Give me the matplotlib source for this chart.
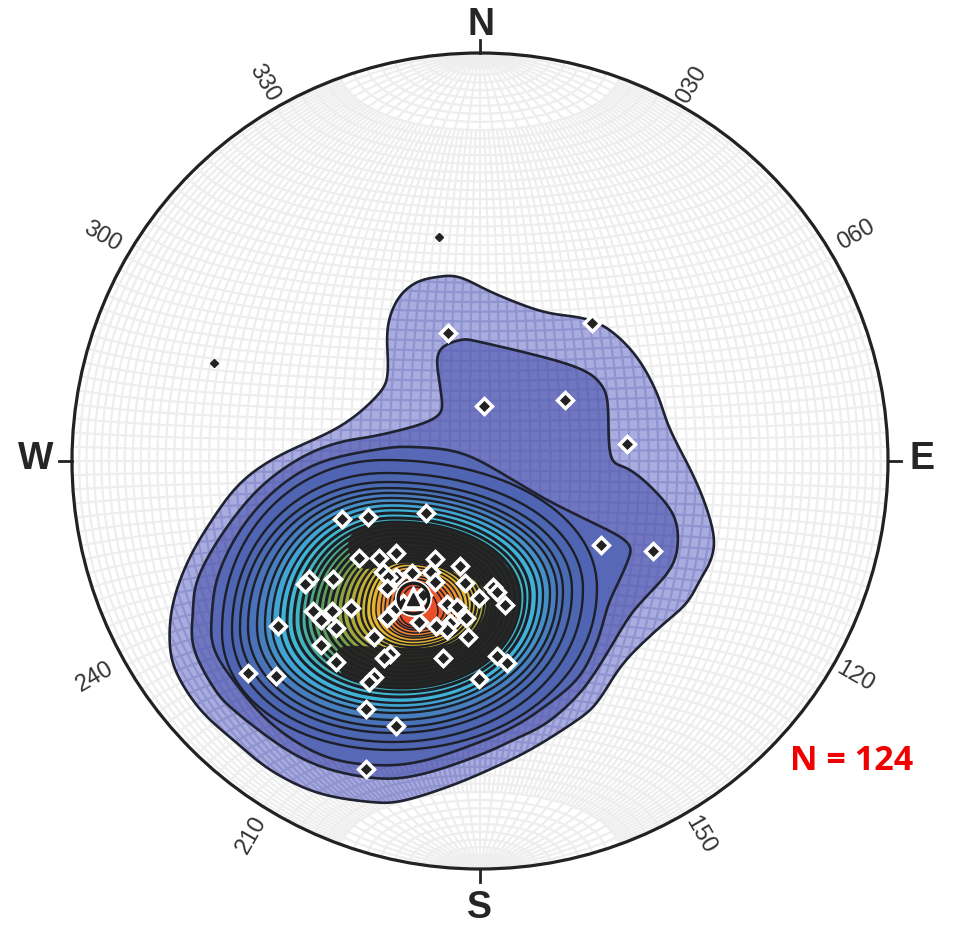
import numpy as np
import matplotlib
matplotlib.use("Agg")
import matplotlib.pyplot as plt
from matplotlib.patches import Polygon, Circle
from matplotlib.collections import LineCollection

plt.rcParams['font.family'] = ['Liberation Sans', 'DejaVu Sans']

# ---- data (image pixel coordinates) ----
cx, cy, R = 480, 461, 408

contour1_x = [437,460,493,543,583,610,637,657,670,697,713,712,700,686,660,623,597,573,530,493,453,403,370,317,270,237,203,180,170,172,187,210,240,280,340,378,388,387,397,415]
contour1_y = [277,277,293,312,318,330,357,393,430,483,530,557,580,604,627,663,703,723,750,768,785,801,802,793,770,743,713,680,650,607,563,523,483,455,427,395,373,330,300,283]
contour2_x = [460,480,547,583,600,608,610,627,647,673,678,670,643,627,603,580,547,513,480,420,370,303,237,213,193,193,197,220,257,300,340,380,437,441,437]
contour2_y = [340,342,358,370,383,403,457,468,483,513,543,570,600,620,660,693,723,740,755,775,778,760,713,687,647,613,580,537,490,458,442,435,418,393,353]
contour3_x = [380,413,463,513,547,587,628,627,610,603,595,577,540,513,480,420,370,320,270,233,213,212,218,240,275,320]
contour3_y = [449,447,453,480,500,520,542,563,600,623,647,680,710,727,742,762,765,755,723,680,647,613,575,530,490,462]

ring_left   = [222,232,240,248,257,265,272,280,287,294,301,307,313,319,325,331,337,343,349,355,361,366,371,376,381,385,389,393,396,400]
ring_top    = [460,473,482,488,493,498,503,508,513,518,522,526,530,534,538,542,546,549,552,555,558,561,564,567,570,573,576,579,582,587]
ring_right  = [597,583,572,563,557,550,543,537,530,525,520,515,510,505,500,496,492,488,484,480,476,472,468,464,460,456,452,448,444,438]
ring_bottom = [750,742,733,727,720,713,708,703,697,692,688,684,680,676,672,668,664,660,656,653,650,647,644,641,638,636,633,630,628,626]
ring_left_y  = [632,630,628,627,626,625,624,623,622,621,620,619,618,617,616,615,614,613,612,612,611,611,610,610,610,610,611,611,612,612]
ring_top_x   = [385,386,387,388,389,390,391,392,393,394,395,396,397,398,399,400,401,402,403,404,405,406,407,408,409,410,411,412,413,414]
ring_right_y = [588,589,590,591,592,593,594,595,596,597,598,599,600,600,601,601,602,602,603,603,604,604,605,606,607,608,609,610,611,612]
ring_bottom_x= [392,393,394,395,396,397,398,399,400,401,402,403,404,405,406,407,408,409,410,411,412,412,413,413,414,414,415,415,415,415]
ring_colors = ['#4f64b3','#4c66b2','#4b6ab4','#4a72b8','#487ebe','#4690c8','#42a4d2','#40b2d8','#42b8d0','#44b4bc',
               '#48ae9e','#4ea884','#56a46c','#60a05a','#6ca04c','#7aa044','#8ca240','#9ea63c','#b0aa38','#c2b034',
               '#d2b632','#e0bc30','#e8b430','#eca430','#ee9430','#ee8430','#ee722e','#ee642c','#ec582a','#e84f28']

pts_x = [342,368,426,359,379,396,435,460,309,305,333,383,396,412,431,435,465,493,497,505,479,388,387,313,321,332,351,336,278,321,336,374,387,396,403,423,447,457,466,450,447,436,419,468,390,384,443,497,507,479,374,369,248,276,366,396,366,448,484,565,627,601,653,592]
pts_y = [519,517,513,558,558,553,559,566,579,584,579,572,577,573,572,582,583,587,592,605,598,577,588,611,620,611,608,628,626,645,662,637,618,608,603,595,604,607,618,623,630,626,622,637,654,658,658,656,663,679,677,682,673,676,709,726,769,333,406,400,444,545,551,323]
small_x = [439,214]
small_y = [237,363]
mean_x, mean_y = 413, 598

dark_band_x = [373,417,460,490,507,520,530,530,515,463,403,357,340,338,377,423,453,463,483,483,440,403,377,357,347,360]
dark_band_y = [515,512,520,540,567,580,607,667,695,700,700,695,670,647,647,648,643,637,620,585,568,563,568,567,543,525]

tick_labels = ['330','030','300','060','240','120','210','150']
tick_label_x = [264,692,102,856,95,855,252,700]
tick_label_y = [83,85,237,235,677,677,835,835]
tick_label_rot = [-60,60,-30,30,30,-30,60,-60]
cardinals = ['N','S','W','E']
cardinal_x = [481,479,36,922]
cardinal_y = [25,908,459,459]


def smooth(xs, ys, n=14, win=11):
    p = np.column_stack([xs, ys]).astype(float)
    out = []
    m = len(p)
    for i in range(m):
        p0, p1, p2, p3 = p[(i-1) % m], p[i], p[(i+1) % m], p[(i+2) % m]
        for t in np.linspace(0, 1, n, endpoint=False):
            out.append(0.5*((2*p1)+(-p0+p2)*t+(2*p0-5*p1+4*p2-p3)*t**2+(-p0+3*p1-3*p2+p3)*t**3))
    out = np.array(out)
    kernel = np.ones(win)/win
    pad = np.vstack([out[-win:], out, out[:win]])
    return np.column_stack([np.convolve(pad[:, j], kernel, mode='same')[win:-win] for j in (0, 1)])


def ring(i, e=2.05):
    l, t, r, b = ring_left[i], ring_top[i], ring_right[i], ring_bottom[i]
    ly, tx, ry, bx = ring_left_y[i], ring_top_x[i], ring_right_y[i], ring_bottom_x[i]
    a = np.linspace(0, np.pi/2, 30, endpoint=False)
    c, s = np.cos(a)**(2/e), np.sin(a)**(2/e)
    q = []
    q.append(np.column_stack([l+(tx-l)*(1-c), ly+(t-ly)*s]))
    q.append(np.column_stack([tx+(r-tx)*s, t+(ry-t)*(1-c)]))
    q.append(np.column_stack([r+(bx-r)*(1-c), ry+(b-ry)*s]))
    q.append(np.column_stack([bx+(l-bx)*s, b+(ly-b)*(1-c)]))
    return np.vstack(q)


def net_segments():
    k = R/np.sqrt(2)
    def proj(lon, lat):
        lon, lat = np.radians(lon), np.radians(lat)
        f = np.sqrt(2/(1+np.cos(lat)*np.cos(lon)))
        return np.column_stack([cx+k*f*np.cos(lat)*np.sin(lon), cy-k*f*np.sin(lat)])
    segs = []
    lon_all = np.linspace(-90, 90, 181)
    for lat in np.arange(-88, 89, 2):
        segs.append(proj(lon_all, np.full_like(lon_all, lat)))
    for lon in np.arange(-90, 91, 2):
        if lon % 6 == 0:
            lat_v = np.linspace(-90, 90, 181)
        else:
            lat_v = np.linspace(-70, 70, 141)
        segs.append(proj(np.full_like(lat_v, lon), lat_v))
    return segs


fig = plt.figure(figsize=(9.55, 9.25), dpi=100)
ax = fig.add_axes([0, 0, 1, 1])
ax.set_xlim(0, 955)
ax.set_ylim(925, 0)
ax.axis('off')

disc = Circle((cx, cy), R, facecolor='white', edgecolor='none', zorder=0)
ax.add_patch(disc)
segs = net_segments()
GRID_LW = 1.6
grid = LineCollection(segs, colors='#eeeeee', linewidths=GRID_LW, zorder=1)
ax.add_collection(grid)
grid.set_clip_path(disc)

line = '#1f2230'
p1 = Polygon(smooth(contour1_x, contour1_y), closed=True, facecolor='#a9acdf', edgecolor='none', zorder=2)
ax.add_patch(p1)
g1 = LineCollection(segs, colors='#8f93cf', linewidths=GRID_LW, zorder=2.1)
ax.add_collection(g1)
g1.set_clip_path(p1)
ax.add_patch(Polygon(smooth(contour1_x, contour1_y), closed=True, fill=False, edgecolor=line, lw=1.9, zorder=2.2))

p2 = Polygon(smooth(contour2_x, contour2_y), closed=True, facecolor='#7077c0', edgecolor='none', zorder=3)
ax.add_patch(p2)
g2 = LineCollection(segs, colors='#666dba', linewidths=GRID_LW, zorder=3.1)
ax.add_collection(g2)
g2.set_clip_path(p2)
ax.add_patch(Polygon(smooth(contour2_x, contour2_y), closed=True, fill=False, edgecolor=line, lw=1.9, zorder=3.2))

ax.add_patch(Polygon(smooth(contour3_x, contour3_y), closed=True, facecolor='#5768b6', edgecolor=line, lw=1.9, zorder=4))

clip_ring = None
for i in range(len(ring_left)):
    lw = 1.7 if i < 8 else (2.2 if i < 16 else (1.7 if i < 22 else 1.1))
    patch = Polygon(ring(i), closed=True, facecolor=ring_colors[i], edgecolor='#1c1f28',
                    lw=lw, zorder=5+i*0.01)
    ax.add_patch(patch)
    if i == 10:
        clip_ring = patch

band = Polygon(smooth(dark_band_x, dark_band_y, 6, 5), closed=True, facecolor='#232323', edgecolor='none', alpha=0.95, zorder=5.9)
ax.add_patch(band)
band.set_clip_path(clip_ring)

ax.plot(small_x, small_y, linestyle='none', marker='D', ms=3.6, mfc='#222222', mec='#222222', zorder=7)
ax.plot(pts_x, pts_y, linestyle='none', marker='D', ms=8.2, mfc='#222222', mec='white', mew=2.5, zorder=8)

ax.plot([mean_x], [mean_y], marker='o', ms=25, mfc='none', mec='white', mew=1.8, linestyle='none', zorder=9)
ax.plot([mean_x], [mean_y], marker='o', ms=22, mfc='none', mec='#1c1c1c', mew=2.4, linestyle='none', zorder=9.05)
ax.plot([mean_x], [mean_y], marker='^', ms=17, mfc='white', mec='white', linestyle='none', zorder=9.1)
ax.plot([mean_x], [mean_y+1], marker='^', ms=9, mfc='#222222', mec='#222222', linestyle='none', zorder=9.2)

ax.add_patch(Circle((cx, cy), R, fill=False, edgecolor='#222222', lw=2.3, zorder=10))
ax.plot([cx, cx], [cy-R-13, cy-R], color='#222222', lw=2, zorder=10)
ax.plot([cx, cx], [cy+R, cy+R+13], color='#222222', lw=2, zorder=10)
ax.plot([cx-R-13, cx-R], [cy, cy], color='#222222', lw=2, zorder=10)
ax.plot([cx+R, cx+R+13], [cy, cy], color='#222222', lw=2, zorder=10)

for s, x, y in zip(cardinals, cardinal_x, cardinal_y):
    ax.text(x, y, s, fontsize=27, fontweight='bold', color='#262626', ha='center', va='center')
for s, x, y, r in zip(tick_labels, tick_label_x, tick_label_y, tick_label_rot):
    ax.text(x, y, s, fontsize=17, color='#333333', ha='center', va='center', rotation=r, rotation_mode='anchor')
ax.text(852, 761, 'N = 124', fontsize=24.5, fontweight='bold', color='#f00000', ha='center', va='center',
        family=['Open Sans', 'DejaVu Sans'])

fig.savefig('out.png', dpi=100)
